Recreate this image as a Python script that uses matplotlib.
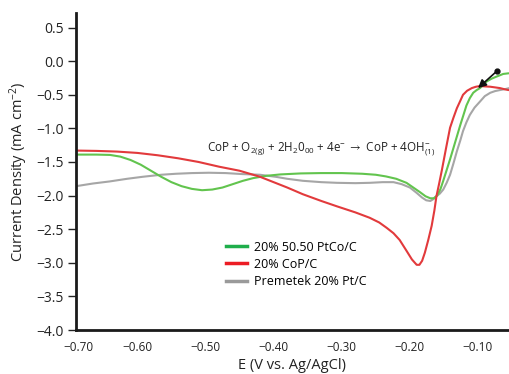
import matplotlib
matplotlib.use("Agg")
import matplotlib.pyplot as plt
from matplotlib.lines import Line2D

plt.rcParams["font.family"] = ["Open Sans", "DejaVu Sans"]
plt.rcParams["mathtext.fontset"] = "custom"
plt.rcParams["mathtext.rm"] = "Open Sans"
plt.rcParams["mathtext.it"] = "Open Sans"
plt.rcParams["mathtext.default"] = "regular"

# Linear sweep voltammetry curves (E in V vs Ag/AgCl, j in mA cm^-2)
ptco_E = [-0.690, -0.660, -0.640, -0.625, -0.610, -0.595, -0.580, -0.565, -0.550,
          -0.535, -0.520, -0.505, -0.490, -0.475, -0.460, -0.445, -0.430, -0.410,
          -0.390, -0.360, -0.330, -0.300, -0.270, -0.250, -0.235, -0.220, -0.205,
          -0.195, -0.185, -0.177, -0.170, -0.165, -0.160, -0.155, -0.151, -0.146,
          -0.141, -0.136, -0.131, -0.126, -0.121, -0.117, -0.112, -0.107, -0.102,
          -0.097, -0.092, -0.087, -0.080, -0.073, -0.063, -0.055]
ptco_j = [-1.39, -1.39, -1.395, -1.42, -1.47, -1.54, -1.63, -1.72, -1.80,
          -1.86, -1.90, -1.92, -1.91, -1.88, -1.83, -1.78, -1.74, -1.705,
          -1.685, -1.67, -1.665, -1.665, -1.675, -1.69, -1.715, -1.75, -1.81,
          -1.88, -1.95, -2.01, -2.04, -2.04, -2.00, -1.90, -1.78, -1.62,
          -1.46, -1.29, -1.12, -0.95, -0.79, -0.66, -0.55, -0.47, -0.43,
          -0.40, -0.35, -0.30, -0.26, -0.23, -0.19, -0.18]

cop_E = [-0.690, -0.660, -0.630, -0.600, -0.570, -0.540, -0.510, -0.480, -0.450,
         -0.420, -0.400, -0.380, -0.357, -0.330, -0.307, -0.280, -0.259, -0.245,
         -0.234, -0.224, -0.215, -0.205, -0.197, -0.190, -0.186, -0.182, -0.178,
         -0.173, -0.168, -0.164, -0.161, -0.157, -0.153, -0.147, -0.141, -0.136,
         -0.131, -0.126, -0.122, -0.116, -0.109, -0.103, -0.097, -0.090, -0.082,
         -0.075, -0.068, -0.060, -0.055]
cop_j = [-1.33, -1.335, -1.345, -1.365, -1.40, -1.445, -1.50, -1.57, -1.63,
         -1.72, -1.80, -1.88, -1.98, -2.08, -2.16, -2.25, -2.33, -2.40,
         -2.48, -2.56, -2.66, -2.82, -2.95, -3.03, -3.03, -2.97, -2.85,
         -2.66, -2.45, -2.22, -2.01, -1.82, -1.62, -1.30, -0.99, -0.84,
         -0.70, -0.59, -0.50, -0.44, -0.40, -0.38, -0.37, -0.375, -0.38,
         -0.39, -0.40, -0.42, -0.43]

pt_E = [-0.690, -0.665, -0.641, -0.615, -0.592, -0.565, -0.543, -0.520, -0.495,
        -0.470, -0.446, -0.420, -0.397, -0.380, -0.357, -0.330, -0.307, -0.280,
        -0.259, -0.240, -0.224, -0.212, -0.200, -0.190, -0.182, -0.176, -0.170,
        -0.165, -0.161, -0.156, -0.151, -0.146, -0.141, -0.136, -0.131, -0.126,
        -0.122, -0.117, -0.112, -0.105, -0.097, -0.090, -0.082, -0.075, -0.068,
        -0.060, -0.054]
pt_j = [-1.86, -1.82, -1.79, -1.75, -1.72, -1.69, -1.675, -1.665, -1.66,
        -1.665, -1.68, -1.69, -1.72, -1.75, -1.78, -1.80, -1.81, -1.815,
        -1.81, -1.80, -1.80, -1.83, -1.88, -1.96, -2.03, -2.07, -2.08,
        -2.05, -2.01, -1.97, -1.91, -1.81, -1.69, -1.52, -1.34, -1.18,
        -1.04, -0.91, -0.80, -0.69, -0.60, -0.52, -0.47, -0.445, -0.43,
        -0.415, -0.40]

labels = ["20% 50.50 PtCo/C", "20% CoP/C", "Premetek 20% Pt/C"]
line_colors = ["#62c44e", "#e23a3c", "#a6a6a6"]
key_colors = ["#1fae4b", "#ec1c24", "#9a9a9a"]

x_ticks = [-0.686, -0.60, -0.50, -0.40, -0.30, -0.20, -0.10]
x_ticklabels = ["\u22120.70", "\u22120.60", "\u22120.50", "\u22120.40",
                "\u22120.30", "\u22120.20", "\u22120.10"]
y_ticks = [0.5, 0.0, -0.5, -1.0, -1.5, -2.0, -2.5, -3.0, -3.5, -4.0]

fig = plt.figure(figsize=(5.09, 3.74), dpi=100)
ax = fig.add_axes([76 / 509, 44 / 374, 433 / 509, 317 / 374])

for E, j, c in zip([pt_E, ptco_E, cop_E], [pt_j, ptco_j, cop_j],
                   [line_colors[2], line_colors[0], line_colors[1]]):
    ax.plot(E, j, color=c, lw=1.5, solid_capstyle="round", solid_joinstyle="round")

ax.set_xlim(-0.690, -0.0545)
ax.set_ylim(-4.0, 0.717)

ax.set_xticks(x_ticks)
ax.set_xticklabels(x_ticklabels)
ax.set_yticks(y_ticks)
ax.set_yticklabels([f"{v:.1f}".replace("-", "\u2212") for v in y_ticks])
ax.tick_params(axis="x", length=0, pad=8, labelsize=8.5, colors="#222222")
ax.tick_params(axis="y", length=6, width=1, pad=3, labelsize=10, colors="#222222")

for s in ["top", "right"]:
    ax.spines[s].set_visible(False)
for s in ["left", "bottom"]:
    ax.spines[s].set_linewidth(2)
    ax.spines[s].set_color("#1a1a1a")

ax.set_xlabel("E (V vs. Ag/AgCl)", fontsize=10.5, labelpad=3, color="#222222")
ax.set_ylabel("Current Density (mA cm$^{-2}$)", fontsize=10.5, labelpad=4,
              color="#222222")

ax.text(-0.498, -1.32,
        r"CoP + O$_{2(g)}$ + 2H$_{2}$0$_{00}$ + 4e$^{-}$ $\rightarrow$ CoP + 4OH$^{-}_{(1)}$",
        fontsize=8.4, color="#222222", ha="left", va="center")

ax.annotate("", xy=(-0.100, -0.40), xytext=(-0.072, -0.145),
            arrowprops=dict(arrowstyle="-|>", color="#111111", lw=1.2,
                            mutation_scale=12, shrinkA=0, shrinkB=0))
ax.plot([-0.072], [-0.145], marker="o", ms=3.5, color="#111111")

handles = [Line2D([0], [0], color=c, lw=2.5) for c in key_colors]
fig.legend(handles, labels, loc="center left",
           bbox_to_anchor=(226 / 509, (374 - 264.3) / 374),
           frameon=False, fontsize=9, handlelength=1.65, handletextpad=0.55,
           labelspacing=0.33, borderpad=0, borderaxespad=0)

fig.savefig("out.png", dpi=100)
